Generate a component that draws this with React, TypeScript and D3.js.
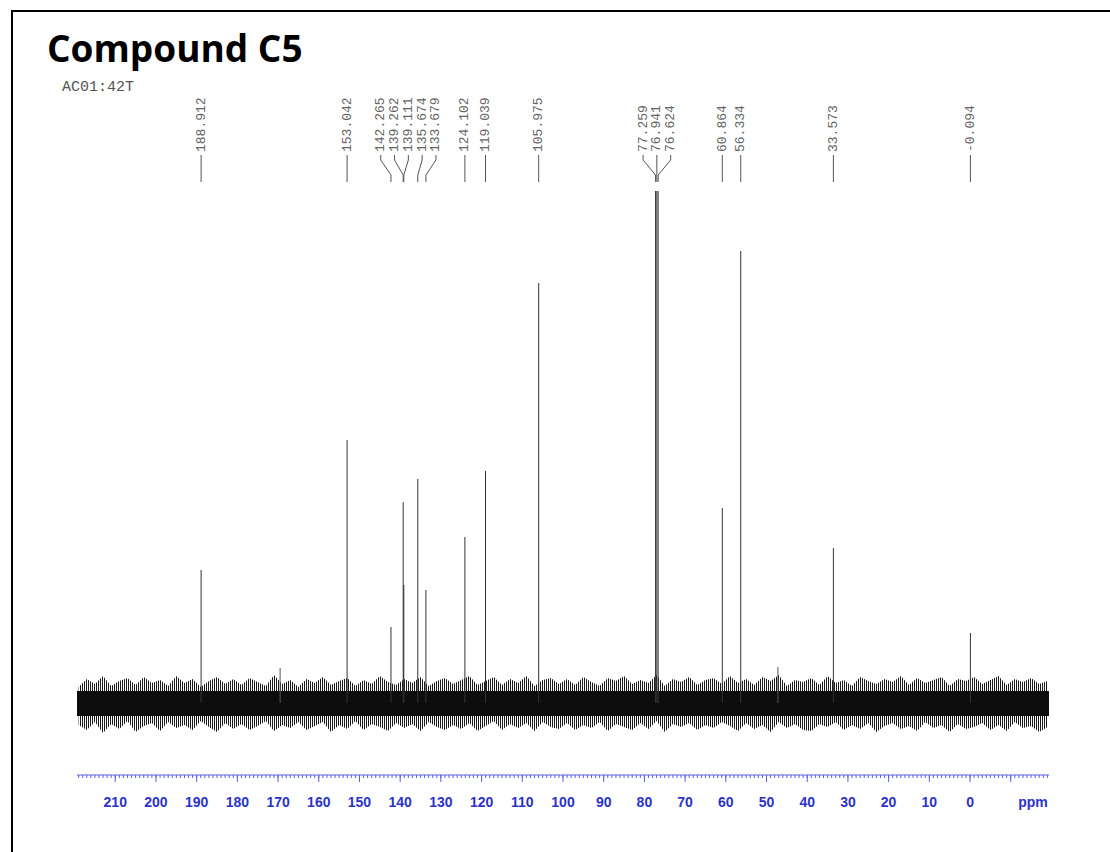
import React from "react";
import * as d3 from "d3";

// 13C NMR peak list (ppm) and peak heights (arbitrary units above baseline)
const PEAK_PPM = [
  188.912, 153.042, 142.265, 139.262, 139.111, 135.674, 133.679, 124.102,
  119.039, 105.975, 77.259, 76.941, 76.624, 60.864, 56.334, 33.573, -0.094,
];
const PEAK_HEIGHT = [
  133, 263, 76, 201, 118, 224, 113, 166, 232, 420, 512, 512, 512, 195, 452, 155, 70,
];

// Baseline noise envelope, sampled every 2 ppm from 219 ppm down to -19 ppm
const NOISE_FIRST_PPM = 219;
const NOISE_STEP_PPM = 2;
const NOISE_TOP = [
  16, 24, 19, 27, 17, 22, 25, 18, 26, 20,
  23, 17, 27, 20, 24, 16, 22, 26, 19, 24,
  18, 25, 21, 17, 28, 19, 23, 16, 24, 20,
  26, 18, 22, 25, 17, 23, 19, 27, 21, 18,
  24, 20, 26, 17, 22, 25, 19, 23, 27, 18,
  22, 26, 18, 24, 20, 27, 17, 23, 25, 19,
  24, 18, 26, 21, 17, 25, 22, 27, 19, 23,
  20, 28, 17, 24, 21, 26, 18, 23, 25, 19,
  27, 20, 24, 18, 26, 22, 28, 17, 23, 21,
  25, 18, 27, 20, 23, 17, 26, 22, 19, 24,
  21, 27, 18, 25, 20, 23, 26, 17, 24, 22,
  26, 19, 23, 27, 18, 24, 21, 25, 19, 22,
];
const NOISE_BOTTOM = [
  22, 27, 19, 30, 21, 26, 18, 29, 23, 20,
  28, 19, 25, 22, 27, 18, 24, 29, 20, 26,
  21, 27, 23, 18, 28, 22, 25, 19, 27, 23,
  19, 29, 22, 26, 18, 27, 21, 24, 28, 20,
  25, 21, 28, 19, 24, 27, 22, 26, 20, 28,
  23, 18, 27, 21, 25, 20, 28, 19, 24, 26,
  20, 27, 22, 25, 19, 28, 21, 24, 27, 20,
  26, 18, 29, 21, 24, 20, 27, 22, 25, 19,
  23, 28, 20, 26, 22, 29, 19, 25, 21, 27,
  28, 21, 24, 19, 27, 22, 26, 20, 29, 23,
  20, 26, 23, 28, 19, 25, 22, 29, 21, 26,
  24, 20, 27, 22, 28, 19, 25, 23, 29, 24,
];
// dense part of the noise band (units above / below baseline)
const NOISE_CORE_TOP = 12;
const NOISE_CORE_BOTTOM = 13;
// isolated noise spikes standing above the band
const SPIKE_PPM = [169.5, 47.2];
const SPIKE_HEIGHT = [35, 36];

const AXIS_LABELS = [210, 200, 190, 180, 170, 160, 150, 140, 130, 120, 110, 100, 90, 80, 70, 60, 50, 40, 30, 20, 10, 0];
const AXIS_UNIT = "ppm";
const TITLE = "Compound C5";
const SAMPLE_ID = "AC01:42T";

const BLUE = "#2b33c9";
const AXIS_BLUE = "#5a5ee0";
const LABEL_GAP = 13.8;

// Spread peak labels so that neighbouring labels never overlap
function layoutLabels(xs: number[], gap: number): number[] {
  let groups = xs.map((v) => ({ xs: [v], center: v }));
  let merged = true;
  while (merged) {
    merged = false;
    for (let i = 0; i < groups.length - 1; i++) {
      const a = groups[i];
      const b = groups[i + 1];
      const aRight = a.center + ((a.xs.length - 1) * gap) / 2;
      const bLeft = b.center - ((b.xs.length - 1) * gap) / 2;
      if (bLeft - aRight < gap) {
        const all = a.xs.concat(b.xs);
        groups.splice(i, 2, { xs: all, center: d3.mean(all) as number });
        merged = true;
        break;
      }
    }
  }
  const out: number[] = [];
  groups.forEach((g) => {
    const n = g.xs.length;
    g.xs.forEach((_, k) => out.push(g.center + (k - (n - 1) / 2) * gap));
  });
  return out;
}

export default function App() {
  const x = d3.scaleLinear().domain([219.4, -19.4]).range([77, 1049]);
  const y = d3.scaleLinear().domain([0, 512]).range([703, 191]);

  const axisY = 775;
  const labelBottom = 152;

  const noiseArea = d3
    .area<number>()
    .x((_, i) => x(NOISE_FIRST_PPM - i * NOISE_STEP_PPM))
    .y0((_, i) => y(-NOISE_BOTTOM[i]))
    .y1((d) => y(d))
    .curve(d3.curveLinear);

  const peakX = PEAK_PPM.map((p) => x(p));
  const labelX = layoutLabels(peakX, LABEL_GAP);

  const minorTicks = d3.range(-19, 220, 1);
  const majorTicks = d3.range(-10, 220, 10);

  return (
    <svg
      width={1110}
      height={852}
      style={{ position: "absolute", left: 0, top: 0, background: "#fff" }}
    >
      <defs>
        <pattern id="noiseHatch" width={2} height={8} patternUnits="userSpaceOnUse">
          <rect x={0} y={0} width={1} height={8} fill="#1a1a1a" />
        </pattern>
      </defs>
      <rect x={0} y={0} width={1110} height={852} fill="#fff" />
      {/* frame */}
      <line x1={11} y1={11} x2={1110} y2={11} stroke="#000" strokeWidth={2} />
      <line x1={12} y1={10} x2={12} y2={852} stroke="#000" strokeWidth={2} />

      <text
        x={47}
        y={62}
        fontFamily="'Open Sans', 'Liberation Sans', sans-serif"
        fontWeight={700}
        fontSize={37}
        fill="#000"
      >
        {TITLE}
      </text>
      <text
        x={62}
        y={91}
        fontFamily="'Liberation Mono', 'Courier New', monospace"
        fontSize={15}
        fill="#555"
      >
        {SAMPLE_ID}
      </text>

      {/* baseline noise */}
      <path d={noiseArea(NOISE_TOP) || ""} fill="url(#noiseHatch)" />
      <rect
        x={x(219.4)}
        width={x(-19.4) - x(219.4)}
        y={y(NOISE_CORE_TOP)}
        height={y(-NOISE_CORE_BOTTOM) - y(NOISE_CORE_TOP)}
        fill="#0d0d0d"
      />
      {SPIKE_PPM.map((p, i) => (
        <line
          key={`sp${i}`}
          x1={x(p)}
          x2={x(p)}
          y1={y(0)}
          y2={y(SPIKE_HEIGHT[i])}
          stroke="#555"
          strokeWidth={1}
        />
      ))}

      {/* peaks */}
      {PEAK_PPM.map((p, i) => (
        <line
          key={`pk${i}`}
          x1={x(p)}
          x2={x(p)}
          y1={y(0)}
          y2={y(PEAK_HEIGHT[i])}
          stroke="#333"
          strokeWidth={1}
        />
      ))}

      {/* peak labels and legs */}
      {PEAK_PPM.map((p, i) => {
        const lx = labelX[i];
        const px = peakX[i];
        const legs = `M${lx},${labelBottom + 3}L${lx},${labelBottom + 8}L${px},${labelBottom + 23}L${px},${labelBottom + 30}`;
        return (
          <g key={`lb${i}`}>
            <path d={legs} fill="none" stroke="#555" strokeWidth={1} />
            <text
              transform={`translate(${lx},${labelBottom}) rotate(-90)`}
              dominantBaseline="central"
              fontFamily="'Liberation Mono', 'Courier New', monospace"
              fontSize={13}
              fill="#666"
            >
              {p.toFixed(3)}
            </text>
          </g>
        );
      })}

      {/* ppm axis */}
      <line x1={x(219.4)} x2={x(-19.4)} y1={axisY} y2={axisY} stroke={AXIS_BLUE} strokeWidth={1} />
      {minorTicks.map((t) => (
        <line key={`mi${t}`} x1={x(t)} x2={x(t)} y1={axisY} y2={axisY + 3} stroke={AXIS_BLUE} strokeWidth={1} />
      ))}
      {majorTicks.map((t) => (
        <line key={`ma${t}`} x1={x(t)} x2={x(t)} y1={axisY} y2={axisY + 7} stroke={AXIS_BLUE} strokeWidth={1} />
      ))}
      {AXIS_LABELS.map((t) => (
        <text
          key={`tl${t}`}
          x={x(t)}
          y={807}
          textAnchor="middle"
          fontFamily="'Liberation Sans', Arial, sans-serif"
          fontWeight={700}
          fontSize={14}
          fill={BLUE}
        >
          {t}
        </text>
      ))}
      <text
        x={1033}
        y={807}
        textAnchor="middle"
        fontFamily="'Liberation Sans', Arial, sans-serif"
        fontWeight={700}
        fontSize={14}
        fill={BLUE}
      >
        {AXIS_UNIT}
      </text>
    </svg>
  );
}
